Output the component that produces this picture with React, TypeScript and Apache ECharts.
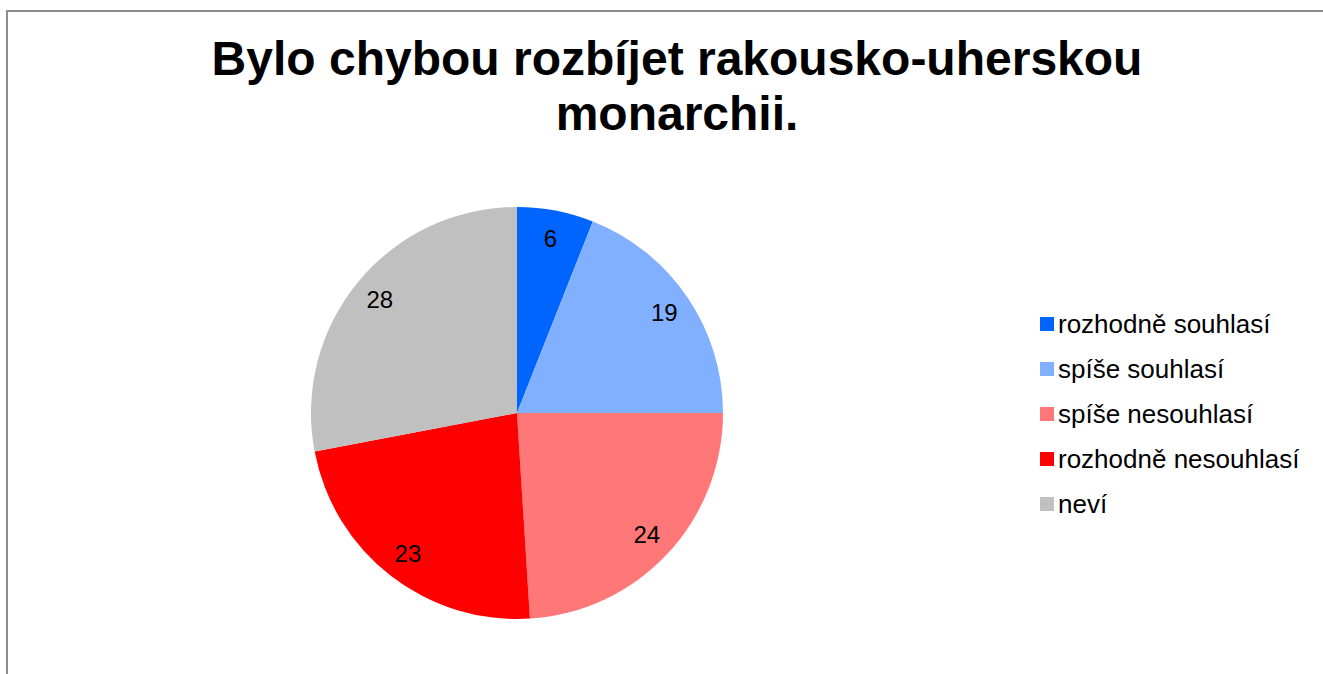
import React, { useEffect, useRef } from "react";
import * as echarts from "echarts";

const titleText = "Bylo chybou rozbíjet rakousko-uherskou\nmonarchii.";
const categories = [
  "rozhodně souhlasí",
  "spíše souhlasí",
  "spíše nesouhlasí",
  "rozhodně nesouhlasí",
  "neví",
];
const values = [6, 19, 24, 23, 28];
const colors = ["#0064FF", "#80B0FF", "#FF7777", "#FF0000", "#C0C0C0"];

export default function App() {
  const ref = useRef<HTMLDivElement>(null);
  useEffect(() => {
    document.body.style.margin = "0";
    const chart = echarts.init(ref.current!, undefined, { renderer: "svg" });
    const data = categories.map((name, i) => ({
      name,
      value: values[i],
      itemStyle: { color: colors[i] },
    }));
    const font = "Liberation Sans, Arial, sans-serif";
    chart.setOption({
      animation: false,
      color: colors,
      title: {
        text: titleText,
        left: 672,
        top: 26,
        textAlign: "center",
        textStyle: {
          fontFamily: font,
          fontSize: 48,
          fontWeight: "bold",
          color: "#000",
          lineHeight: 55,
        },
      },
      legend: {
        orient: "vertical",
        left: 1035,
        top: 306,
        itemWidth: 14,
        itemHeight: 14,
        itemGap: 19,
        icon: "rect",
        data: categories,
        textStyle: { fontFamily: font, fontSize: 26, color: "#000", padding: [0, 0, 0, -1] },
      },
      graphic: [
        { type: "line", shape: { x1: 7, y1: 10, x2: 7, y2: 674 }, style: { stroke: "#8c8c8c", lineWidth: 2 } },
        { type: "line", shape: { x1: 6, y1: 11, x2: 1323, y2: 11 }, style: { stroke: "#8c8c8c", lineWidth: 2 } },
      ],
      series: [
        {
          type: "pie",
          center: [517, 413],
          radius: [0, 206],
          startAngle: 90,
          clockwise: true,
          label: { show: false },
          labelLine: { show: false },
          silent: true,
          data,
        },
        {
          type: "pie",
          center: [517, 413],
          radius: [144, 206],
          startAngle: 90,
          clockwise: true,
          silent: true,
          itemStyle: { color: "transparent" },
          label: {
            show: true,
            position: "inside",
            formatter: "{c}",
            fontFamily: font,
            fontSize: 24,
            color: "#000",
          },
          labelLine: { show: false },
          legendHoverLink: false,
          data: categories.map((name, i) => ({ name: name + " ", value: values[i] })),
        },
      ],
    });
    return () => chart.dispose();
  }, []);
  return <div ref={ref} style={{ width: 1323, height: 674 }} />;
}
